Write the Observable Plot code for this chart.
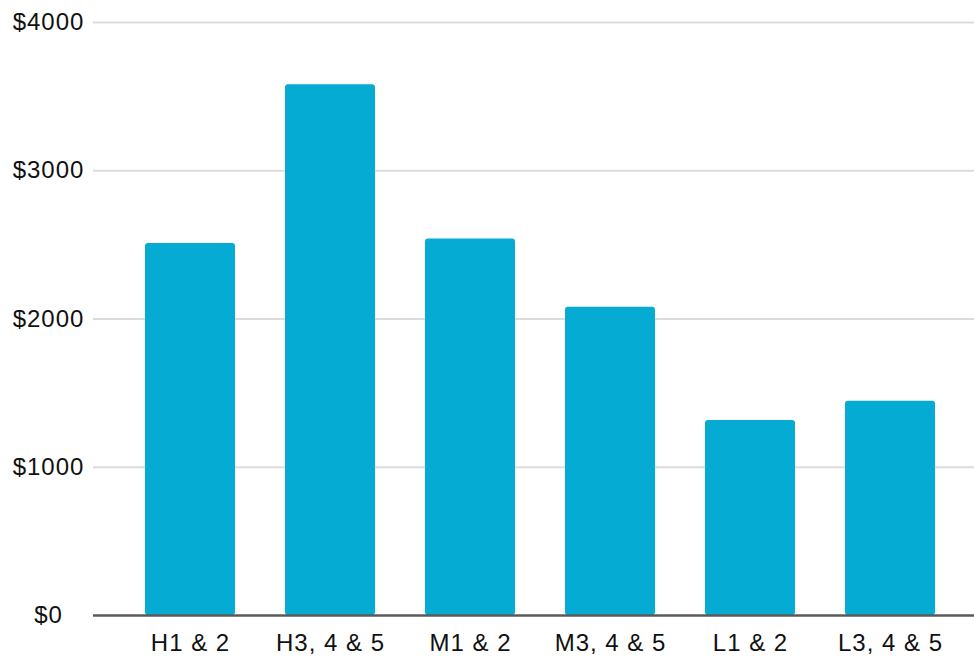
<!DOCTYPE html>
<html>
<head>
<meta charset="utf-8">
<script src="https://cdn.jsdelivr.net/npm/d3@7"></script>
<script src="https://cdn.jsdelivr.net/npm/@observablehq/plot@0.6"></script>
<style>
  html, body { margin: 0; padding: 0; background: #fff; }
  #chart svg { display: block; }
</style>
</head>
<body>
<div id="chart"></div>
<script>
// Groups along the x axis
const groups = ["H1 & 2", "H3, 4 & 5", "M1 & 2", "M3, 4 & 5", "L1 & 2", "L3, 4 & 5"];
// Dollar amount per group
const amounts = [2510, 3580, 2540, 2080, 1315, 1445];
// Y axis ticks
const yTicks = [0, 1000, 2000, 3000, 4000];

const data = groups.map((g, i) => ({group: g, amount: amounts[i]}));

const chart = Plot.plot({
  width: 974,
  height: 658,
  marginTop: 22,
  marginBottom: 43,
  marginLeft: 93,
  marginRight: 0,
  style: {
    fontFamily: "'Liberation Sans', Arial, sans-serif",
    fontSize: "24px",
    letterSpacing: "1px",
    color: "#111",
    background: "#fff"
  },
  x: {domain: groups, range: [142, 938], paddingInner: 0.354, paddingOuter: 0, label: null},
  y: {domain: [0, 4000], label: null},
  marks: [
    Plot.ruleY(yTicks.filter(d => d > 0), {stroke: "#dcdcdc", strokeWidth: 2}),
    Plot.barY(data, {x: "group", y: "amount", fill: "#05abd3", rx: 3}),
    Plot.ruleY([0], {stroke: "#5a5a5a", strokeWidth: 2.5}),
    Plot.axisY({
      ticks: yTicks,
      tickSize: 0,
      tickPadding: 45,
      textAnchor: "middle",
      tickFormat: d => "$" + d,
      label: null
    }),
    Plot.axisX({tickSize: 0, tickPadding: 18, label: null})
  ]
});

document.getElementById("chart").appendChild(chart);
</script>
</body>
</html>
